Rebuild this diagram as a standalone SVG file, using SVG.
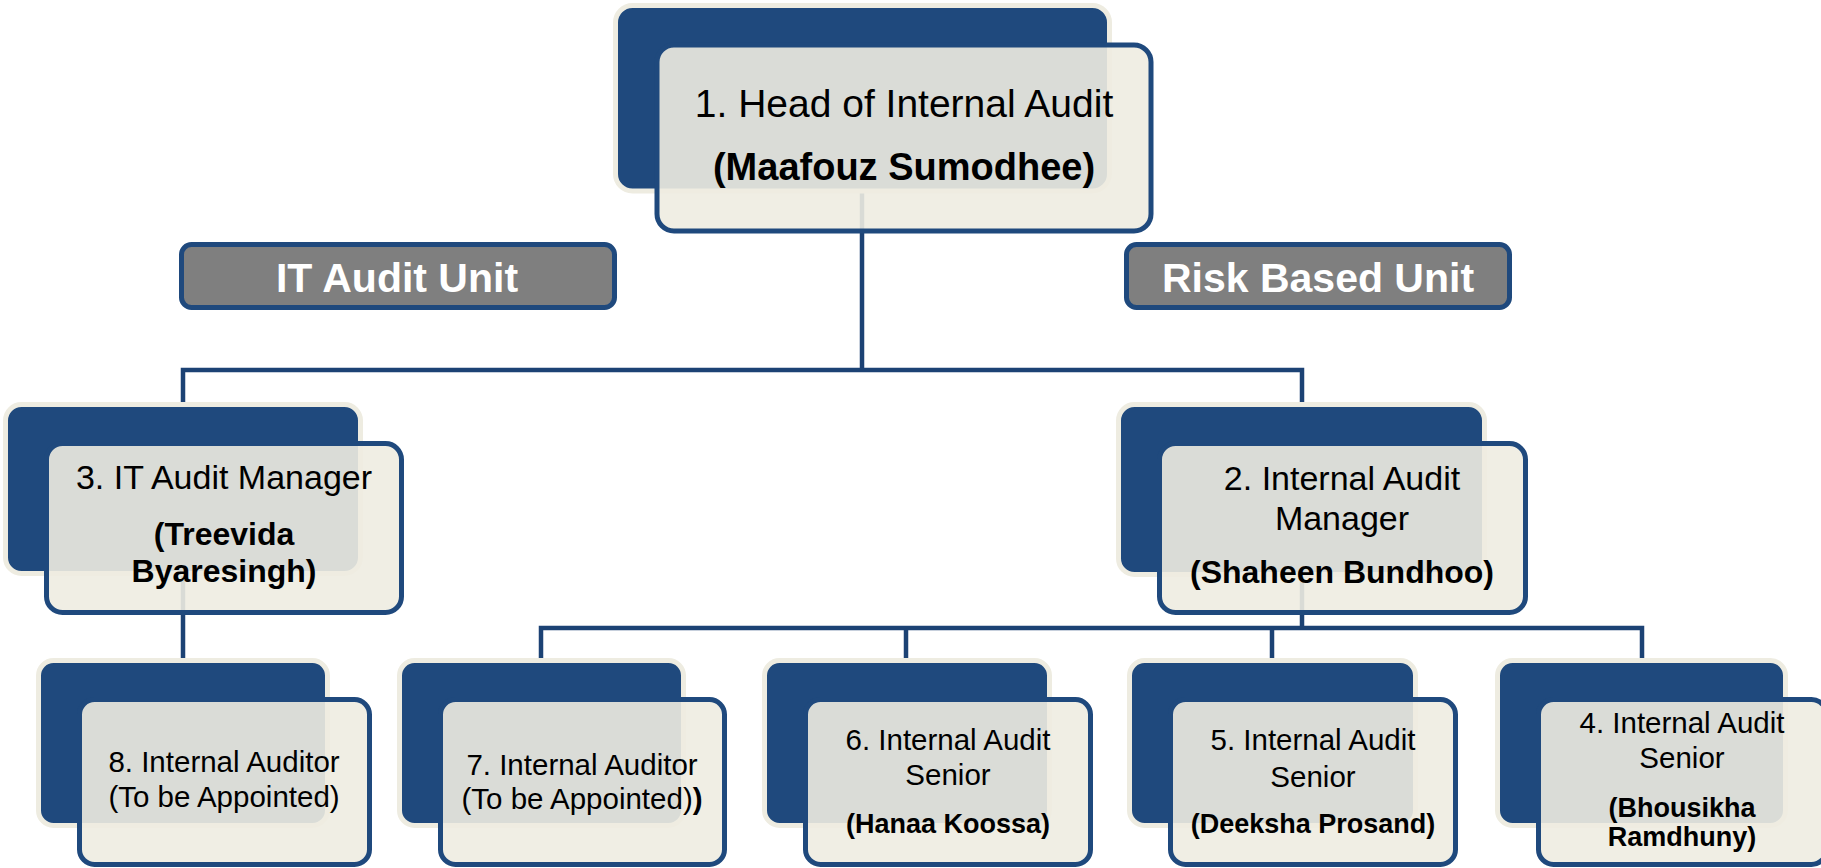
<svg xmlns="http://www.w3.org/2000/svg" width="1821" height="868" viewBox="0 0 1821 868">
<style>
.back{fill:#1F497D;stroke:#EEECE1;stroke-width:5}
.front{fill:#EEECE1;fill-opacity:0.9;stroke:#1F497D;stroke-width:5}
.unit{fill:#7F7F7F;stroke:#1F497D;stroke-width:5}
.conn{stroke:#1C4274;stroke-width:4.5;fill:none}
text{font-family:"Liberation Sans",Arial,sans-serif;text-anchor:middle;fill:#000}
.b{font-weight:bold}
.u{fill:#FFFFFF;font-weight:bold;font-size:41px}
.t1{font-size:39px}
.t1b{font-size:38px;font-weight:bold}
.t2{font-size:34px}
.t2b{font-size:32px;font-weight:bold}
.t3{font-size:29.5px}
.t3b{font-size:27px;font-weight:bold}
</style>
<rect width="1821" height="868" fill="#FFFFFF"/>
<g id="connectors">
<path class="conn" d="M862,150 V370"/>
<path class="conn" d="M183,662 V370 H1302 V628"/>
<path class="conn" d="M541,662 V628 H1642 V662"/>
<path class="conn" d="M906,628 V662 M1272,628 V662"/>
</g>
<g id="unit-it">
<rect class="unit" x="181.5" y="244.5" width="433" height="63" rx="10"/>
<text class="u" x="397" y="292">IT Audit Unit</text>
</g>
<g id="unit-risk">
<rect class="unit" x="1126.5" y="244.5" width="383" height="63" rx="10"/>
<text class="u" x="1318" y="292">Risk Based Unit</text>
</g>
<g id="node1">
<rect class="back" x="615.5" y="5.5" width="494" height="185.5" rx="17"/>
<rect class="front" x="657" y="45" width="494" height="186" rx="17"/>
<text class="t1" x="904" y="117">1. Head of Internal Audit</text>
<text class="t1b" x="904" y="180">(Maafouz Sumodhee)</text>
</g>
<g id="node3">
<rect class="back" x="5.5" y="404.5" width="355" height="169" rx="16"/>
<rect class="front" x="46.5" y="443.5" width="355" height="169" rx="16"/>
<text class="t2" x="224" y="489">3. IT Audit Manager</text>
<text class="t2b" x="224" y="545">(Treevida</text>
<text class="t2b" x="224" y="582">Byaresingh)</text>
</g>
<g id="node2">
<rect class="back" x="1118.5" y="404.5" width="366" height="170" rx="16"/>
<rect class="front" x="1159.5" y="443.5" width="366" height="169" rx="16"/>
<text class="t2" x="1342" y="490">2. Internal Audit</text>
<text class="t2" x="1342" y="530">Manager</text>
<text class="t2b" x="1342" y="583">(Shaheen Bundhoo)</text>
</g>
<g id="node8">
<rect class="back" x="38.5" y="660.5" width="289" height="165" rx="15"/>
<rect class="front" x="79.5" y="699.5" width="290" height="165" rx="15"/>
<text class="t3" x="224" y="772">8. Internal Auditor</text>
<text class="t3" x="224" y="807">(To be Appointed)</text>
</g>
<g id="node7">
<rect class="back" x="399.5" y="660.5" width="284" height="165" rx="15"/>
<rect class="front" x="440.5" y="699.5" width="284" height="165" rx="15"/>
<text class="t3" x="582" y="775">7. Internal Auditor</text>
<text class="t3" x="582" y="809">(To be Appointed)<tspan class="b">)</tspan></text>
</g>
<g id="node6">
<rect class="back" x="764.5" y="660.5" width="285" height="165" rx="15"/>
<rect class="front" x="805.5" y="699.5" width="285" height="165" rx="15"/>
<text class="t3" x="948" y="750">6. Internal Audit</text>
<text class="t3" x="948" y="785">Senior</text>
<text class="t3b" x="948" y="833">(Hanaa Koossa)</text>
</g>
<g id="node5">
<rect class="back" x="1129.5" y="660.5" width="286" height="165" rx="15"/>
<rect class="front" x="1170.5" y="699.5" width="285" height="165" rx="15"/>
<text class="t3" x="1313" y="750">5. Internal Audit</text>
<text class="t3" x="1313" y="787">Senior</text>
<text class="t3b" x="1313" y="833">(Deeksha Prosand)</text>
</g>
<g id="node4">
<rect class="back" x="1497.5" y="660.5" width="288" height="165" rx="15"/>
<rect class="front" x="1538.5" y="699.5" width="288" height="165" rx="15"/>
<text class="t3" x="1682" y="733">4. Internal Audit</text>
<text class="t3" x="1682" y="768">Senior</text>
<text class="t3b" x="1682" y="817">(Bhousikha</text>
<text class="t3b" x="1682" y="846">Ramdhuny)</text>
</g>
</svg>
